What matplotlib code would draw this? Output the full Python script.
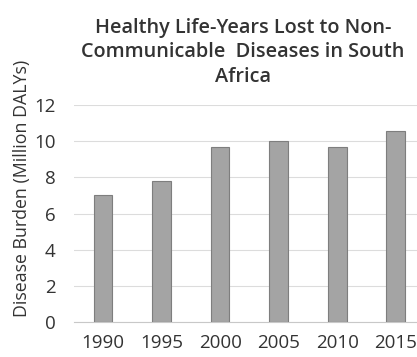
import matplotlib
matplotlib.use('Agg')
import matplotlib.pyplot as plt

YEARS = ['1990', '1995', '2000', '2005', '2010', '2015']
DALYS = [7.0, 7.8, 9.66, 10.03, 9.7, 10.56]
Y_TICKS = [0, 2, 4, 6, 8, 10, 12]

plt.rcParams['font.family'] = ['Open Sans', 'DejaVu Sans']

fig = plt.figure(figsize=(4.17, 3.57), dpi=100)
ax = fig.add_axes([73.7 / 417, 35 / 357, (425 - 73.7) / 417, (322 - 105) / 357])

x = range(len(YEARS))
ax.bar(x, DALYS, width=0.32, color='#a4a4a4', edgecolor='#7e7e7e', linewidth=0.8, zorder=3)

ax.set_xlim(-0.5, len(YEARS) - 0.5)
ax.set_ylim(0, 12)
ax.set_yticks(Y_TICKS)
ax.set_xticks(list(x))
ax.set_xticklabels(YEARS)
ax.tick_params(axis='both', length=0, labelsize=13.5, colors='#333333')
ax.tick_params(axis='x', pad=9)
ax.tick_params(axis='y', pad=13)
ax.grid(axis='y', color='#dcdcdc', linewidth=0.8, zorder=0)
for side in ['top', 'right', 'left']:
    ax.spines[side].set_visible(False)
ax.spines['bottom'].set_color('#c8c8c8')

fig.text(22 / 417, 1 - 188 / 357, 'Disease Burden (Million DALYs)', rotation=90,
         ha='center', va='center', fontsize=12.8, color='#333333')
fig.text(243 / 417, 1 - 52 / 357,
         'Healthy Life-Years Lost to Non-\nCommunicable  Diseases in South\nAfrica',
         ha='center', va='center', fontsize=14.3, fontweight='semibold',
         color='#333333', linespacing=1.3)

fig.savefig('out.png', dpi=100, facecolor='white')
